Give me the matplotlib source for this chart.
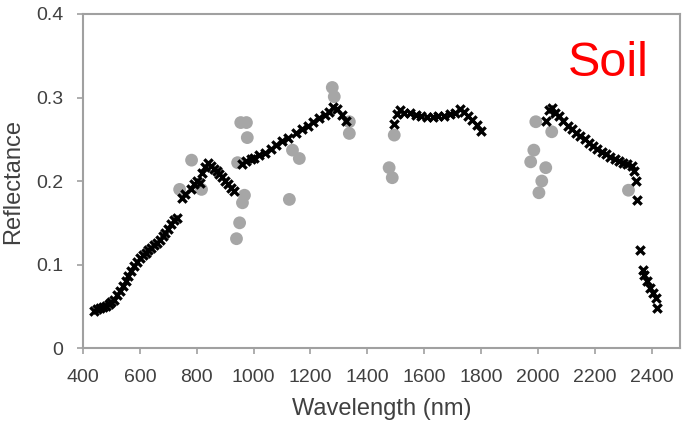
import numpy as np
import matplotlib.pyplot as plt

plt.rcParams['font.family'] = ['Liberation Sans', 'DejaVu Sans']

# black "x" series: wavelength (nm), reflectance
black_wl = [440, 450, 460, 470, 480, 490, 500, 510, 520, 530, 540, 550, 560, 570,
            580, 590, 600, 610, 620, 630, 640, 650, 660, 670, 680, 690, 700, 710,
            720, 730, 750, 760, 780, 790, 800, 810, 820, 830, 840, 850, 860, 870,
            880, 890, 900, 910, 920, 930,
            960, 975, 990, 1000, 1020, 1040, 1060, 1080, 1100, 1120, 1150, 1170,
            1190, 1210, 1230, 1250, 1265, 1280, 1295, 1310, 1325,
            1495, 1505, 1515, 1530, 1550, 1570, 1590, 1610, 1630, 1650, 1670, 1690,
            1710, 1725, 1740, 1755, 1770, 1785, 1800,
            2030, 2040, 2050, 2060, 2075, 2090, 2105, 2120, 2135, 2150, 2165, 2180,
            2195, 2210, 2225, 2240, 2255, 2270, 2285, 2300, 2315, 2330, 2340, 2345,
            2350, 2360, 2370, 2375, 2385, 2395, 2405, 2415, 2420]
black_refl = [0.045, 0.047, 0.048, 0.049, 0.051, 0.053, 0.055, 0.058, 0.063, 0.068,
              0.074, 0.080, 0.086, 0.092, 0.098, 0.103, 0.108, 0.111, 0.114, 0.117,
              0.120, 0.123, 0.126, 0.130, 0.134, 0.138, 0.143, 0.148, 0.153, 0.156,
              0.180, 0.184, 0.190, 0.196, 0.200, 0.198, 0.210, 0.217, 0.222, 0.218,
              0.215, 0.212, 0.208, 0.205, 0.200, 0.196, 0.192, 0.188,
              0.220, 0.224, 0.226, 0.228, 0.231, 0.234, 0.238, 0.243, 0.248, 0.252,
              0.258, 0.262, 0.266, 0.271, 0.275, 0.279, 0.283, 0.289, 0.286, 0.279,
              0.272,
              0.268, 0.280, 0.285, 0.282, 0.281, 0.279, 0.278, 0.277, 0.277, 0.278,
              0.278, 0.280, 0.282, 0.286, 0.283, 0.278, 0.273, 0.267, 0.260,
              0.272, 0.285, 0.288, 0.282, 0.278, 0.272, 0.266, 0.262, 0.258, 0.254,
              0.250, 0.246, 0.242, 0.238, 0.235, 0.232, 0.229, 0.226, 0.224, 0.222,
              0.220, 0.218, 0.212, 0.200, 0.177, 0.118, 0.093, 0.088, 0.080, 0.072,
              0.066, 0.060, 0.048]

# grey circle series
grey_wl = [740, 782, 817, 940, 944, 951, 961, 968, 955, 975, 978,
           1126, 1137, 1161, 1277, 1284, 1337, 1337,
           1477, 1488, 1495,
           1975, 1986, 1993, 2004, 2014, 2028, 2049, 2319]
grey_refl = [0.190, 0.225, 0.190, 0.131, 0.222, 0.150, 0.174, 0.183, 0.270, 0.270, 0.252,
             0.178, 0.237, 0.227, 0.312, 0.301, 0.271, 0.257,
             0.216, 0.204, 0.255,
             0.223, 0.237, 0.271, 0.186, 0.200, 0.216, 0.259, 0.189]

fig = plt.figure(figsize=(6.83, 4.23), dpi=100)
ax = fig.add_axes([0.1215, 0.177, 0.874, 0.79])

ax.scatter(grey_wl, grey_refl, s=85, color='#a6a6a6', edgecolors='none', zorder=2)
ax.scatter(black_wl, black_refl, s=36, marker='x', color='black', linewidths=2.4, zorder=3)

ax.set_xlim(400, 2500)
ax.set_ylim(0, 0.4)
ax.set_xticks(np.arange(400, 2401, 200))
ax.set_yticks([0, 0.1, 0.2, 0.3, 0.4])
ax.set_yticklabels(['0', '0.1', '0.2', '0.3', '0.4'])

for s in ax.spines.values():
    s.set_color('#a0a0a0')
    s.set_linewidth(1.5)
ax.tick_params(direction='out', length=4, width=1.2, color='#a0a0a0',
               labelsize=14, labelcolor='#404040')
ax.tick_params(axis='x', pad=11)
ax.tick_params(axis='y', pad=10)

ax.set_xlabel('Wavelength (nm)', fontsize=17, color='#404040', labelpad=9)
ax.set_ylabel('Reflectance', fontsize=17, color='#404040', labelpad=9)

ax.text(0.812, 0.815, 'Soil', transform=ax.transAxes, color='red',
        fontsize=35, ha='left', va='baseline')

fig.savefig('out.png', dpi=100)
